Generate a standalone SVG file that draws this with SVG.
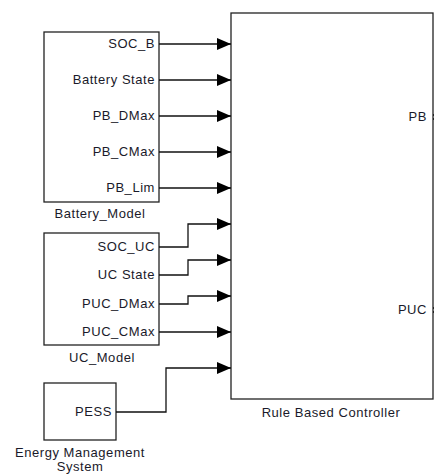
<svg xmlns="http://www.w3.org/2000/svg" width="434" height="475" viewBox="0 0 434 475">
<style>
.box{fill:#fff;stroke:#222;stroke-width:1.3}
.t{font-family:"Liberation Sans",Arial,sans-serif;font-size:13px;letter-spacing:0.55px;fill:#1a1a2a}
.r{text-anchor:end}
.c{text-anchor:middle}
.w{fill:none;stroke:#111;stroke-width:1.3}
</style>
<defs>
<marker id="ah" viewBox="0 0 14 12" refX="14" refY="6" markerWidth="14" markerHeight="12" markerUnits="userSpaceOnUse" orient="auto">
<path d="M0,0 L14,6 L0,12 z" fill="#000"/>
</marker>
</defs>
<rect width="434" height="475" fill="#fff"/>
<g id="controller">
<rect class="box" x="231" y="13" width="202" height="386"/>
<text class="t r" x="427" y="121">PB</text>
<text class="t r" x="427" y="314">PUC</text>
<path d="M433.5,114 v2 M433.5,118 v2 M433.5,307 v2 M433.5,311 v2" stroke="#222" stroke-width="1"/>
<text class="t c" x="331" y="417">Rule Based Controller</text>
</g>
<g id="battery_model">
<rect class="box" x="44" y="32" width="115" height="170"/>
<text class="t r" x="155" y="48">SOC_B</text>
<text class="t r" x="155" y="84">Battery State</text>
<text class="t r" x="155" y="120">PB_DMax</text>
<text class="t r" x="155" y="156">PB_CMax</text>
<text class="t r" x="155" y="192">PB_Lim</text>
<text class="t c" x="100" y="218">Battery_Model</text>
</g>
<g id="uc_model">
<rect class="box" x="44" y="233" width="115" height="112"/>
<text class="t r" x="155" y="251">SOC_UC</text>
<text class="t r" x="155" y="279">UC State</text>
<text class="t r" x="155" y="308">PUC_DMax</text>
<text class="t r" x="155" y="336">PUC_CMax</text>
<text class="t c" x="102" y="362">UC_Model</text>
</g>
<g id="energy_management">
<rect class="box" x="44" y="383" width="72" height="57"/>
<text class="t r" x="112" y="416">PESS</text>
<text class="t c" x="80" y="457">Energy Management</text>
<text class="t c" x="80" y="471">System</text>
</g>
<g id="connectors">
<path class="w" marker-end="url(#ah)" d="M159,44 H231"/>
<path class="w" marker-end="url(#ah)" d="M159,80 H231"/>
<path class="w" marker-end="url(#ah)" d="M159,116 H231"/>
<path class="w" marker-end="url(#ah)" d="M159,152 H231"/>
<path class="w" marker-end="url(#ah)" d="M159,188 H231"/>
<path class="w" marker-end="url(#ah)" d="M159,247 H188 V224 H231"/>
<path class="w" marker-end="url(#ah)" d="M159,275 H188 V260 H231"/>
<path class="w" marker-end="url(#ah)" d="M159,304 H188 V296 H231"/>
<path class="w" marker-end="url(#ah)" d="M159,332 H231"/>
<path class="w" marker-end="url(#ah)" d="M116,412 H166 V368 H231"/>
</g>
</svg>
